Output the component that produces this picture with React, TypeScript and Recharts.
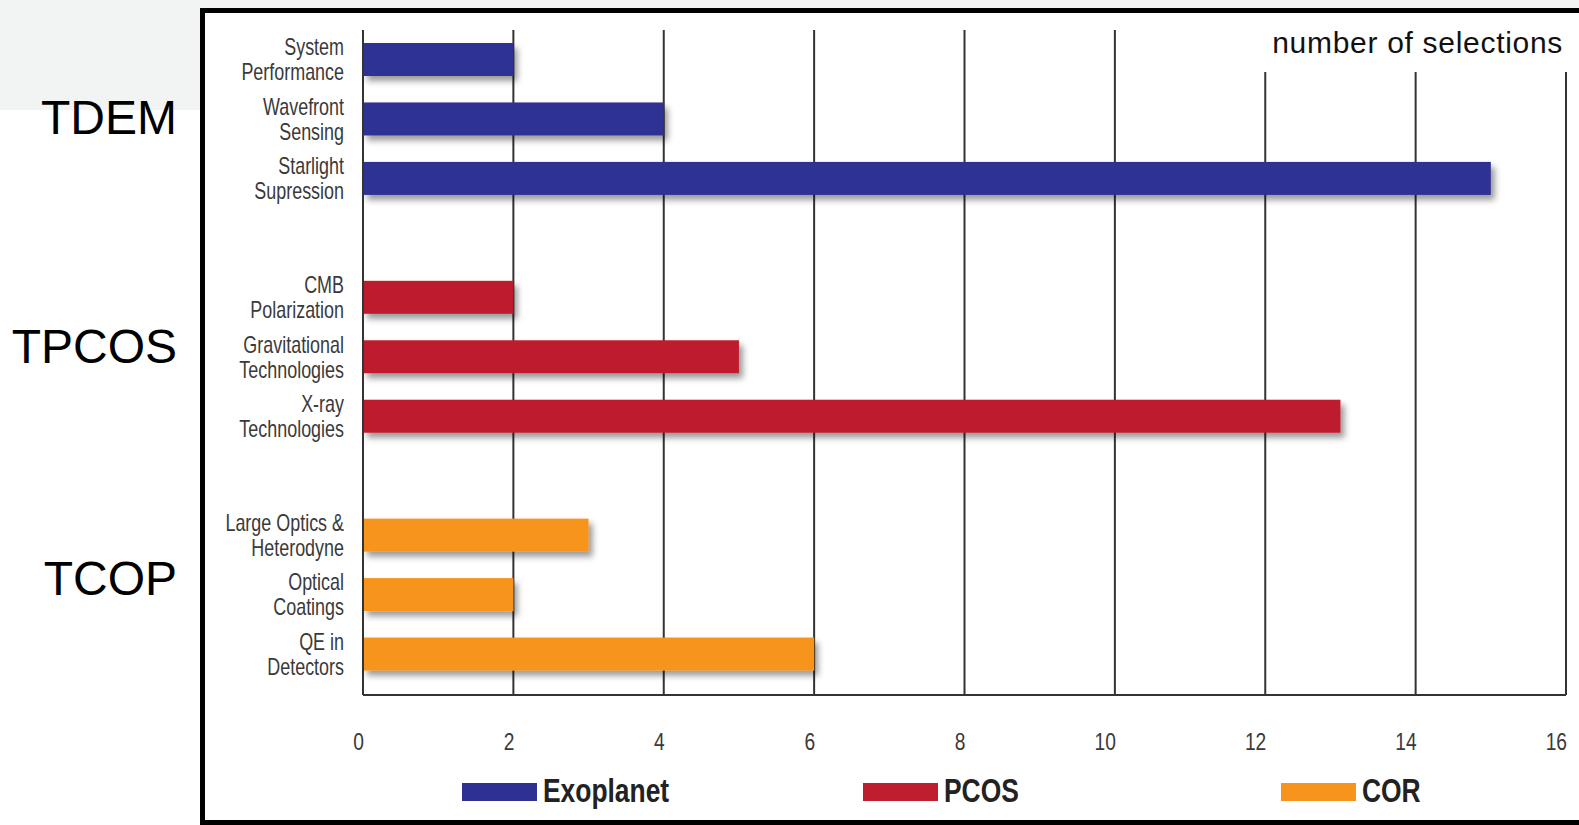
import React from 'react';
import { BarChart, Bar, XAxis, YAxis, CartesianGrid } from 'recharts';

// topics, one per bar, in chart order (top to bottom)
const topics = [
  'System\nPerformance',
  'Wavefront\nSensing',
  'Starlight\nSupression',
  'CMB\nPolarization',
  'Gravitational\nTechnologies',
  'X-ray\nTechnologies',
  'Large Optics &\nHeterodyne',
  'Optical\nCoatings',
  'QE in\nDetectors',
];
const selections = [2, 4, 15, 2, 5, 13, 3, 2, 6];
const topicProgram = [0, 0, 0, 1, 1, 1, 2, 2, 2];

const programs = ['Exoplanet', 'PCOS', 'COR'];
const programColors = ['#2e3192', '#be1e2d', '#f7941d'];
const programLabels = ['TDEM', 'TPCOS', 'TCOP'];

const xTicks = [0, 2, 4, 6, 8, 10, 12, 14, 16];

// one blank row between program groups
const rows: { name: string; value: number | null; program: number }[] = [];
topics.forEach((t, i) => {
  if (i > 0 && topicProgram[i] !== topicProgram[i - 1]) {
    rows.push({ name: 'gap' + i, value: null, program: -1 });
  }
  rows.push({ name: t, value: selections[i], program: topicProgram[i] });
});

const W = 1579;
const H = 825;

const condensed = 'Liberation Sans, Arial, sans-serif';

const TopicTick = (props: any) => {
  const { x, y, payload } = props;
  const v: string = payload.value;
  if (v.startsWith('gap')) return null;
  const lines = v.split('\n');
  return (
    <g>
      <text
        transform={`translate(${x} ${y - 4.5}) scale(0.78 1)`}
        textAnchor="end"
        fontFamily={condensed}
        fontSize={23}
        fill="#3a3a3a"
      >
        {lines[0]}
      </text>
      <text
        transform={`translate(${x} ${y + 20.5}) scale(0.78 1)`}
        textAnchor="end"
        fontFamily={condensed}
        fontSize={23}
        fill="#3a3a3a"
      >
        {lines[1]}
      </text>
    </g>
  );
};

const CountTick = (props: any) => {
  const { x, y, payload } = props;
  return (
    <text
      transform={`translate(${x + 1} ${y + 55}) scale(0.8 1)`}
      textAnchor="end"
      fontFamily={condensed}
      fontSize={24}
      fill="#3a3a3a"
    >
      {payload.value}
    </text>
  );
};

const ShadowBar = (props: any) => {
  const { x, y, width, height, payload } = props;
  if (!width || width <= 0 || payload.program < 0) return null;
  return (
    <rect
      x={x}
      y={y}
      width={width}
      height={height}
      fill={programColors[payload.program]}
      filter="url(#barShadow)"
    />
  );
};

const legendLeft = [462, 863, 1281];
const groupBaseline = [134, 363, 595];

export default function App() {
  return (
    <div style={{ position: 'absolute', left: 0, top: 0, width: W, height: H, overflow: 'hidden', background: '#fff' }}>
      <svg width={0} height={0} style={{ position: 'absolute' }}>
        <defs>
          <filter id="barShadow" x="-10%" y="-50%" width="130%" height="220%">
            <feDropShadow dx={4} dy={5} stdDeviation={3} floodColor="#000" floodOpacity={0.4} />
          </filter>
        </defs>
      </svg>

      {/* light grey slide background behind the frame */}
      <div style={{ position: 'absolute', left: 0, top: 0, width: W, height: 9, background: '#f2f3f3' }} />
      <div style={{ position: 'absolute', left: 0, top: 0, width: 200, height: 110, background: '#f2f3f3' }} />
      <div
        style={{
          position: 'absolute',
          left: 200,
          top: 8,
          width: W,
          height: H - 8,
          boxSizing: 'border-box',
          border: '5px solid #000',
          background: '#fff',
        }}
      />

      <div style={{ position: 'absolute', left: 0, top: 0 }}>
        <BarChart
          width={W}
          height={H}
          data={rows}
          layout="vertical"
          margin={{ top: 30, right: 13, bottom: 100, left: 0 }}
        >
          <CartesianGrid horizontal={false} stroke="#333" strokeWidth={2} />
          <XAxis
            type="number"
            domain={[0, 16]}
            ticks={xTicks}
            height={30}
            tickLine={false}
            tickSize={0}
            tickMargin={0}
            axisLine={{ stroke: '#333', strokeWidth: 2 }}
            tick={<CountTick />}
          />
          <YAxis
            type="category"
            dataKey="name"
            width={363}
            tickLine={false}
            tickSize={0}
            tickMargin={19}
            padding={{ top: 0, bottom: 11 }}
            axisLine={{ stroke: '#333', strokeWidth: 2 }}
            tick={<TopicTick />}
            interval={0}
          />
          <Bar dataKey="value" barSize={33} shape={<ShadowBar />} isAnimationActive={false} />
        </BarChart>
      </div>

      <svg width={W} height={H} style={{ position: 'absolute', left: 0, top: 0, pointerEvents: 'none' }}>
        <rect x={1240} y={27} width={W - 1240} height={45} fill="#fff" />
        <text x={1563} y={53} textAnchor="end" fontFamily="Liberation Sans, Arial, sans-serif" fontSize={30} letterSpacing={0.7} fill="#111">
          number of selections
        </text>
        {programLabels.map((p, i) => (
          <text key={p} x={177} y={groupBaseline[i]} textAnchor="end" fontFamily="Liberation Sans, Arial, sans-serif" fontSize={48} fill="#000">
            {p}
          </text>
        ))}
        {programs.map((p, i) => (
          <g key={p}>
            <rect x={legendLeft[i]} y={783} width={75} height={18} fill={programColors[i]} />
            <text
              transform={`translate(${legendLeft[i] + 81} 802) scale(0.8 1)`}
              fontFamily={condensed}
              fontWeight="bold"
              fontSize={33}
              fill="#222"
            >
              {p}
            </text>
          </g>
        ))}
      </svg>
    </div>
  );
}
